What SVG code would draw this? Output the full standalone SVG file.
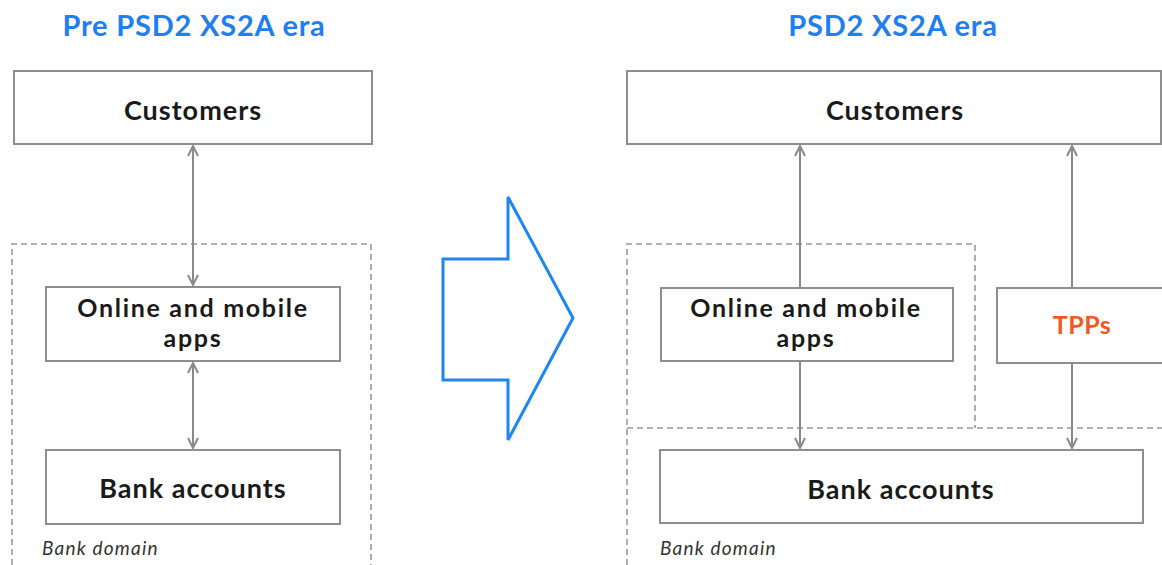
<svg xmlns="http://www.w3.org/2000/svg" width="1162" height="565" viewBox="0 0 1162 565">
<defs>
<style>
.box{fill:#fff;stroke:#8e8e8e;stroke-width:2}
.dash{fill:none;stroke:#9a9a9a;stroke-width:1.6;stroke-dasharray:6 4}
.lbl{font-family:Lato,"Open Sans",sans-serif;font-weight:700;font-size:27px;letter-spacing:1px;fill:#1a1a1a;text-anchor:middle}
.lbl2{font-family:Lato,"Open Sans",sans-serif;font-weight:700;font-size:25px;letter-spacing:1.7px;fill:#1a1a1a;text-anchor:middle}
.title{font-family:Lato,"Open Sans",sans-serif;font-weight:700;font-size:29px;letter-spacing:0.8px;fill:#1f7ef0;text-anchor:middle}
.dom{font-family:Lato,"Open Sans",sans-serif;font-style:italic;font-size:19px;letter-spacing:1.2px;fill:#333}
.conn{stroke:#8a8a8a;stroke-width:2;fill:none}
</style>
<marker id="ah" viewBox="0 0 12 12" refX="11" refY="6" markerWidth="12" markerHeight="12" markerUnits="userSpaceOnUse" orient="auto-start-reverse">
<path d="M1,1 L11,6 L1,11" fill="none" stroke="#8a8a8a" stroke-width="2"/>
</marker>
</defs>
<rect width="1162" height="565" fill="#fff"/>

<g id="titles">
<text class="title" x="194" y="36">Pre PSD2 XS2A era</text>
<text class="title" x="893" y="36">PSD2 XS2A era</text>
</g>

<g id="left-bank-domain">
<path class="dash" d="M12,565 V244 H371 V565"/>
<text class="dom" x="42" y="555">Bank domain</text>
</g>

<g id="right-bank-domain">
<path class="dash" d="M627,565 V244 H975 V428"/>
<path class="dash" d="M627,428 H1162"/>
<text class="dom" x="660" y="555">Bank domain</text>
</g>

<g id="left-customers">
<rect class="box" x="14" y="71" width="358" height="73"/>
<text class="lbl" x="193" y="120">Customers</text>
</g>
<g id="left-online">
<rect class="box" x="46" y="287" width="294" height="74"/>
<text class="lbl2" x="193" y="317">Online and mobile</text>
<text class="lbl2" x="193" y="347">apps</text>
</g>
<g id="left-bank">
<rect class="box" x="46" y="450" width="294" height="74"/>
<text class="lbl" x="193" y="498">Bank accounts</text>
</g>

<g id="transition-arrow">
<polygon points="443,259 508,259 508,197 573,318 508,440 508,380 443,380" fill="#fff" stroke="#1e86f0" stroke-width="3" stroke-linejoin="miter"/>
</g>

<g id="right-customers">
<rect class="box" x="627" y="71" width="534" height="73"/>
<text class="lbl" x="895" y="120">Customers</text>
</g>
<g id="right-online">
<rect class="box" x="661" y="288" width="292" height="73"/>
<text class="lbl2" x="806" y="317">Online and mobile</text>
<text class="lbl2" x="806" y="347">apps</text>
</g>
<g id="right-tpps">
<rect class="box" x="997" y="288" width="175" height="75"/>
<text class="lbl" x="1082" y="334" style="fill:#f05a1c;font-size:25px;letter-spacing:0.5px">TPPs</text>
</g>
<g id="right-bank">
<rect class="box" x="660" y="450" width="483" height="73"/>
<text class="lbl" x="901" y="499">Bank accounts</text>
</g>

<g id="connectors">
<line class="conn" x1="193" y1="146" x2="193" y2="285" marker-start="url(#ah)" marker-end="url(#ah)"/>
<line class="conn" x1="193" y1="363" x2="193" y2="448" marker-start="url(#ah)" marker-end="url(#ah)"/>
<line class="conn" x1="800" y1="288" x2="800" y2="146" marker-end="url(#ah)"/>
<line class="conn" x1="1072" y1="288" x2="1072" y2="146" marker-end="url(#ah)"/>
<line class="conn" x1="800" y1="361" x2="800" y2="448" marker-end="url(#ah)"/>
<line class="conn" x1="1072" y1="363" x2="1072" y2="448" marker-end="url(#ah)"/>
</g>
</svg>
